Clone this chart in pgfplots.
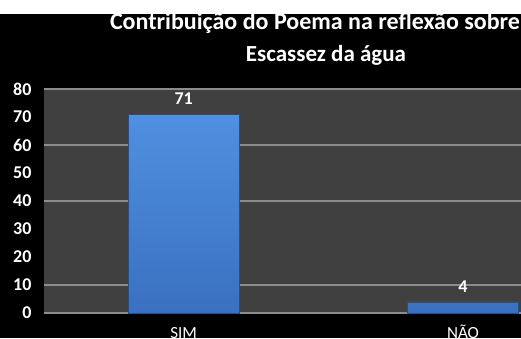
\documentclass[border=0pt]{standalone}
\usepackage{pgfplots}
\pgfplotsset{compat=1.18}
\usepackage{fontspec}
\setmainfont{Carlito}
\definecolor{plotbg}{HTML}{404040}
\definecolor{gridc}{HTML}{8C8C8C}
\definecolor{bartop}{HTML}{5090E0}
\definecolor{barbot}{HTML}{3A70C0}
\begin{document}
\begin{tikzpicture}[x=1pt,y=1pt]
\useasboundingbox (0,0) rectangle (521,338);
\clip (0,0) rectangle (521,338);
\fill[white] (0,0) rectangle (521,338);
\fill[black] (0,0) rectangle (521,324);
\begin{axis}[
  at={(44pt,25pt)}, anchor=south west,
  scale only axis, width=477pt, height=224pt,
  xmin=-0.5, xmax=1.2075, ymin=0, ymax=80,
  axis background/.style={fill=plotbg},
  axis line style={draw=none},
  ytick={0,10,...,80},
  xtick={0,1}, xticklabels={SIM,NÃO},
  major tick length=0pt,
  ymajorgrids=false, xmajorgrids=false,
  extra y ticks={0,10,40,60,80}, extra y tick labels={},
  extra y tick style={ymajorgrids=true, major grid style={draw=gridc, line width=1.2pt}},
  /pgf/number format/assume math mode=true,
  yticklabel style={font=\fontsize{18}{18}\selectfont\bfseries, text=white, xshift=-9pt},
  xticklabel style={font=\fontsize{17}{17}\selectfont, text=white, text height=12pt, yshift=-10pt},
  ybar, bar width=111pt,
  nodes near coords,
  every node near coord/.append style={font=\fontsize{18}{18}\selectfont\bfseries, text=white, yshift=6pt},
]
\addplot[draw=barbot!70!black, top color=bartop, bottom color=barbot] coordinates {(0,71) (1,4)};
\end{axis}
\node[text=white, font=\fontsize{24}{24}\selectfont\bfseries] at (315,315) {Contribuição do Poema na reflexão sobre};
\node[text=white, font=\fontsize{23}{23}\selectfont\bfseries] at (326,283) {Escassez da água};
\end{tikzpicture}
\end{document}
